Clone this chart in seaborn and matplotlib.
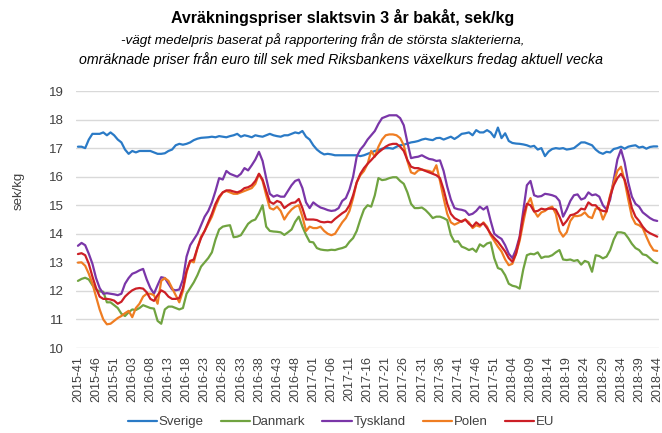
import numpy as np
import pandas as pd
import matplotlib
matplotlib.use("Agg")
import matplotlib.pyplot as plt
import seaborn as sns

# --- DATA (veckovisa priser, sek/kg, 2015-41 .. 2018-44) ---
tick_labels = [
    "2015-41", "2015-46", "2015-51", "2016-03", "2016-08", "2016-13", "2016-18",
    "2016-23", "2016-28", "2016-33", "2016-38", "2016-43", "2016-48", "2017-01",
    "2017-06", "2017-11", "2017-16", "2017-21", "2017-26", "2017-31", "2017-36",
    "2017-41", "2017-46", "2017-51", "2018-04", "2018-09", "2018-14", "2018-19",
    "2018-24", "2018-29", "2018-34", "2018-39", "2018-44",
]

sverige = [
    17.05, 17.05, 17.0, 17.3, 17.5, 17.5, 17.5, 17.55, 17.45, 17.55,
    17.45, 17.3, 17.2, 16.95, 16.8, 16.9, 16.85, 16.9, 16.9, 16.9,
    16.9, 16.85, 16.8, 16.8, 16.82, 16.9, 16.95, 17.1, 17.15, 17.12,
    17.15, 17.2, 17.28, 17.33, 17.36, 17.37, 17.38, 17.4, 17.38, 17.42,
    17.4, 17.38, 17.42, 17.45, 17.5, 17.4, 17.45, 17.42, 17.38, 17.45,
    17.42, 17.4, 17.45, 17.5, 17.45, 17.42, 17.4, 17.45, 17.45, 17.5,
    17.55, 17.52, 17.6, 17.4, 17.3, 17.1, 16.95, 16.85, 16.78, 16.8,
    16.78, 16.75, 16.75, 16.75, 16.75, 16.75, 16.75, 16.75, 16.72, 16.75,
    16.8, 16.85, 16.9, 16.93, 16.98, 17.0, 17.0, 16.98, 17.05, 17.1,
    17.12, 17.16, 17.2, 17.22, 17.25, 17.3, 17.33, 17.3, 17.28, 17.35,
    17.36, 17.3, 17.35, 17.4, 17.32, 17.4, 17.5, 17.52, 17.55, 17.45,
    17.63, 17.55, 17.55, 17.63, 17.55, 17.38, 17.72, 17.35, 17.52, 17.25,
    17.18, 17.16, 17.15, 17.13, 17.1, 17.05, 17.08, 16.95, 17.0, 16.72,
    16.88, 16.97, 17.0, 16.98, 17.0, 16.95, 16.97, 17.0, 17.1, 17.2,
    17.2, 17.15, 17.1, 16.95, 16.85, 16.8, 16.87, 16.85, 16.97, 17.0,
    17.05, 16.98, 17.05, 17.08, 17.1, 17.02, 17.05, 16.98, 17.04, 17.06,
    17.06,
]

danmark = [
    12.35, 12.42, 12.46, 12.4, 12.2, 12.05, 11.98, 11.97, 11.6, 11.6,
    11.5, 11.4, 11.2, 11.12, 11.25, 11.35, 11.33, 11.4, 11.5, 11.45,
    11.4, 11.38, 10.95, 10.85, 11.35, 11.45, 11.45, 11.4, 11.35, 11.4,
    11.9, 12.1, 12.3, 12.55, 12.85, 13.0, 13.15, 13.35, 13.8, 14.15,
    14.25, 14.28, 14.3, 13.88, 13.9, 13.95, 14.15, 14.35, 14.45, 14.5,
    14.72, 15.0, 14.25, 14.1, 14.08, 14.07, 14.05, 13.96, 14.05, 14.15,
    14.42, 14.6, 14.25, 13.96, 13.72, 13.7, 13.5, 13.45, 13.43, 13.42,
    13.44, 13.43, 13.47, 13.5, 13.55, 13.72, 13.85, 14.1, 14.5, 14.85,
    15.0, 14.95, 15.35, 15.95, 15.88, 15.9, 15.95, 15.98, 15.98, 15.85,
    15.75, 15.45, 15.05, 14.9, 14.9, 14.92, 14.83, 14.7, 14.55, 14.6,
    14.6, 14.55, 14.48, 13.96, 13.72, 13.74, 13.55, 13.5, 13.43, 13.48,
    13.37, 13.63, 13.55, 13.66, 13.7, 13.14, 12.8, 12.75, 12.55, 12.25,
    12.18, 12.15, 12.08, 12.75, 13.25, 13.3, 13.28, 13.35, 13.15, 13.2,
    13.2, 13.25, 13.35, 13.43, 13.1, 13.08, 13.1, 13.05, 13.08, 12.92,
    13.05, 13.0, 12.67, 13.25, 13.22, 13.14, 13.2, 13.43, 13.8, 14.05,
    14.05, 14.02, 13.85, 13.65, 13.5, 13.43, 13.28, 13.25, 13.14, 13.02,
    12.97,
]

tyskland = [
    13.58, 13.68, 13.6, 13.3, 12.95, 12.45, 12.1, 11.9, 11.92, 11.9,
    11.88, 11.85, 11.9, 12.25, 12.45, 12.6, 12.65, 12.72, 12.77, 12.4,
    12.1, 11.9, 12.2, 12.48, 12.45, 12.25, 12.05, 12.02, 12.05, 12.4,
    13.2, 13.6, 13.8, 14.0, 14.3, 14.6, 14.8, 15.1, 15.5, 15.95,
    15.9, 16.2, 16.1, 16.05, 16.0, 16.1, 16.3, 16.22, 16.4, 16.6,
    16.87, 16.55, 15.95, 15.4, 15.3, 15.35, 15.3, 15.3, 15.5, 15.7,
    15.85, 15.9, 15.6, 15.1, 14.9, 15.1, 15.0, 14.92, 14.88, 14.83,
    14.8, 14.82, 14.9, 15.15, 15.25, 15.55, 16.0, 16.7, 16.95, 17.1,
    17.3, 17.45, 17.6, 17.85, 18.05, 18.1, 18.15, 18.15, 18.15, 18.05,
    17.8, 17.2, 16.65, 16.68, 16.7, 16.75, 16.68, 16.62, 16.6, 16.55,
    16.57, 16.2, 15.65, 15.2, 14.9, 14.86, 14.84, 14.8, 14.66, 14.7,
    14.8, 14.95, 14.85, 14.95, 14.45, 14.0, 13.9, 13.82, 13.6, 13.3,
    13.15, 13.45, 13.9, 14.8, 15.7, 15.85, 15.35, 15.3, 15.32, 15.4,
    15.38, 15.35, 15.3, 15.15, 14.6, 14.85, 15.15, 15.35, 15.38, 15.2,
    15.25, 15.45, 15.35, 15.38, 15.3, 15.0, 14.85, 15.2, 15.9, 16.6,
    16.95, 16.5, 15.8, 15.3, 15.05, 14.95, 14.75, 14.65, 14.55, 14.48,
    14.45,
]

polen = [
    12.99, 13.0, 12.88, 12.6, 12.25, 11.8, 11.35, 11.0, 10.83, 10.85,
    10.95, 11.05, 11.12, 11.22, 11.3, 11.08, 11.4, 11.55, 11.8, 11.9,
    11.9, 11.85, 11.55, 12.35, 12.45, 12.35, 12.1, 11.85, 11.6, 12.0,
    12.65, 13.05, 13.0, 13.5, 13.9, 14.1, 14.35, 14.6, 14.95, 15.25,
    15.45, 15.5, 15.45, 15.4, 15.4, 15.45, 15.5, 15.55, 15.6, 15.75,
    16.1, 15.85, 15.35, 14.9, 14.85, 14.95, 14.8, 14.5, 14.7, 14.85,
    14.95, 15.0, 14.6, 14.1, 14.25, 14.2, 14.2, 14.25, 14.1, 14.0,
    13.95, 14.0, 14.2, 14.4, 14.55, 14.8, 15.25, 15.8, 16.05, 16.2,
    16.45, 16.9, 16.7, 17.05, 17.3, 17.45, 17.48, 17.48, 17.45, 17.35,
    17.1, 16.55, 16.15, 16.1, 16.22, 16.25, 16.22, 16.2, 16.15, 16.4,
    15.85, 15.25, 14.7, 14.4, 14.32, 14.38, 14.45, 14.5, 14.4, 14.2,
    14.3, 14.25, 14.4, 14.25, 13.95, 13.75, 13.55, 13.38, 13.1, 12.9,
    12.95, 13.3, 13.75, 14.4, 15.0, 15.25, 14.8, 14.6, 14.75, 14.8,
    14.9, 14.95, 14.7, 14.1, 13.9, 14.05, 14.45, 14.62, 14.62, 14.65,
    14.75, 14.6, 14.55, 14.88, 14.9, 14.5, 14.78, 15.35, 15.8, 16.2,
    16.35, 15.85, 15.2, 14.6, 14.35, 14.3, 14.2, 13.9, 13.62, 13.42,
    13.4,
]

eu = [
    13.29, 13.32, 13.25, 12.95, 12.5, 12.1, 11.8, 11.72, 11.72, 11.7,
    11.66, 11.55, 11.62, 11.8, 11.92, 12.02, 12.08, 12.1, 12.08, 11.95,
    11.72, 11.65, 11.85, 12.02, 11.95, 11.8, 11.72, 11.72, 11.75, 12.1,
    12.7, 13.05, 13.1, 13.5, 13.85, 14.1, 14.4, 14.7, 15.05, 15.3,
    15.45, 15.52, 15.52, 15.48, 15.45, 15.5, 15.6, 15.63, 15.7, 15.85,
    16.1, 15.9, 15.5, 15.12, 15.05, 15.15, 15.1, 14.9, 15.0, 15.08,
    15.1, 15.22, 14.9, 14.5, 14.5, 14.5, 14.48, 14.42, 14.4, 14.42,
    14.4, 14.52, 14.62, 14.72, 14.8, 15.0, 15.35, 15.8, 16.1, 16.3,
    16.45, 16.58, 16.72, 16.85, 16.95, 17.05, 17.12, 17.15, 17.15, 17.05,
    16.9, 16.58, 16.35, 16.3, 16.3, 16.25, 16.2, 16.15, 16.1, 16.05,
    15.95, 15.55, 15.05, 14.7, 14.55, 14.48, 14.42, 14.5, 14.35, 14.25,
    14.4, 14.3, 14.37, 14.2, 14.0, 13.85, 13.72, 13.55, 13.38, 13.15,
    13.02, 13.3, 13.85, 14.6, 15.05, 15.0, 14.78, 14.8, 14.88, 14.85,
    14.88, 14.88, 14.85, 14.6, 14.3, 14.45, 14.65, 14.68, 14.75, 14.88,
    14.85, 15.1, 15.0, 15.0, 14.85, 14.8, 14.78, 15.3, 15.7, 15.95,
    16.1, 15.9, 15.45, 14.9, 14.6, 14.45, 14.25, 14.1, 14.02, 13.96,
    13.9,
]

series_names = ["Sverige", "Danmark", "Tyskland", "Polen", "EU"]
colors = ["#2a7ac6", "#70a340", "#7a36a8", "#ef7d22", "#cc1f26"]

# --- long format for seaborn ---
frames = []
for name, vals in zip(series_names, [sverige, danmark, tyskland, polen, eu]):
    frames.append(pd.DataFrame({"vecka": np.arange(len(vals)), "pris": vals, "serie": name}))
df = pd.concat(frames, ignore_index=True)

sns.set_theme(style="white")
plt.rcParams["font.family"] = ["Liberation Sans", "DejaVu Sans"]

fig = plt.figure(figsize=(6.62, 4.33), dpi=100)
ax = fig.add_axes([0.115, 0.1963, 0.8805, 0.5935])

sns.lineplot(data=df, x="vecka", y="pris", hue="serie", hue_order=series_names,
             palette=colors, linewidth=1.6, ax=ax, legend=False)

ax.set_xlim(-0.5, len(sverige) - 0.5)
ax.set_ylim(10, 19)
ax.set_yticks(range(10, 20))
ax.set_xticks(range(0, len(sverige), 5))
ax.set_xticklabels(tick_labels, rotation=90, fontsize=9, color="#404040")
ax.tick_params(axis="y", labelsize=9.5, labelcolor="#404040", length=0, pad=9)
ax.tick_params(axis="x", length=0, pad=6)
ax.grid(axis="y", color="#d9d9d9", linewidth=1.0)
ax.set_axisbelow(True)
for s in ax.spines.values():
    s.set_visible(False)
ax.set_xlabel("")
ax.set_ylabel("sek/kg", fontsize=9.5, color="#404040")
ax.yaxis.set_label_coords(-0.088, 0.61)

fig.text(0.518, 0.960, "Avräkningspriser slaktsvin 3 år bakåt, sek/kg",
         ha="center", va="center", fontsize=11.5, fontweight="bold", color="black")
fig.text(0.488, 0.908, "-vägt medelpris baserat på rapportering från de största slakterierna,",
         ha="center", va="center", fontsize=9.7, style="italic", color="black")
fig.text(0.515, 0.862, "omräknade priser från euro till sek med Riksbankens växelkurs fredag aktuell vecka",
         ha="center", va="center", fontsize=10.2, style="italic", color="black")

handles = [plt.Line2D([], [], color=c, linewidth=1.6) for c in colors]
fig.legend(handles, series_names, loc="center", bbox_to_anchor=(0.515, 0.025), ncol=5,
           frameon=False, fontsize=9.5, handlelength=2.2, columnspacing=1.3, handletextpad=0.15,
           labelcolor="#404040")

fig.savefig("out.png", dpi=100)
